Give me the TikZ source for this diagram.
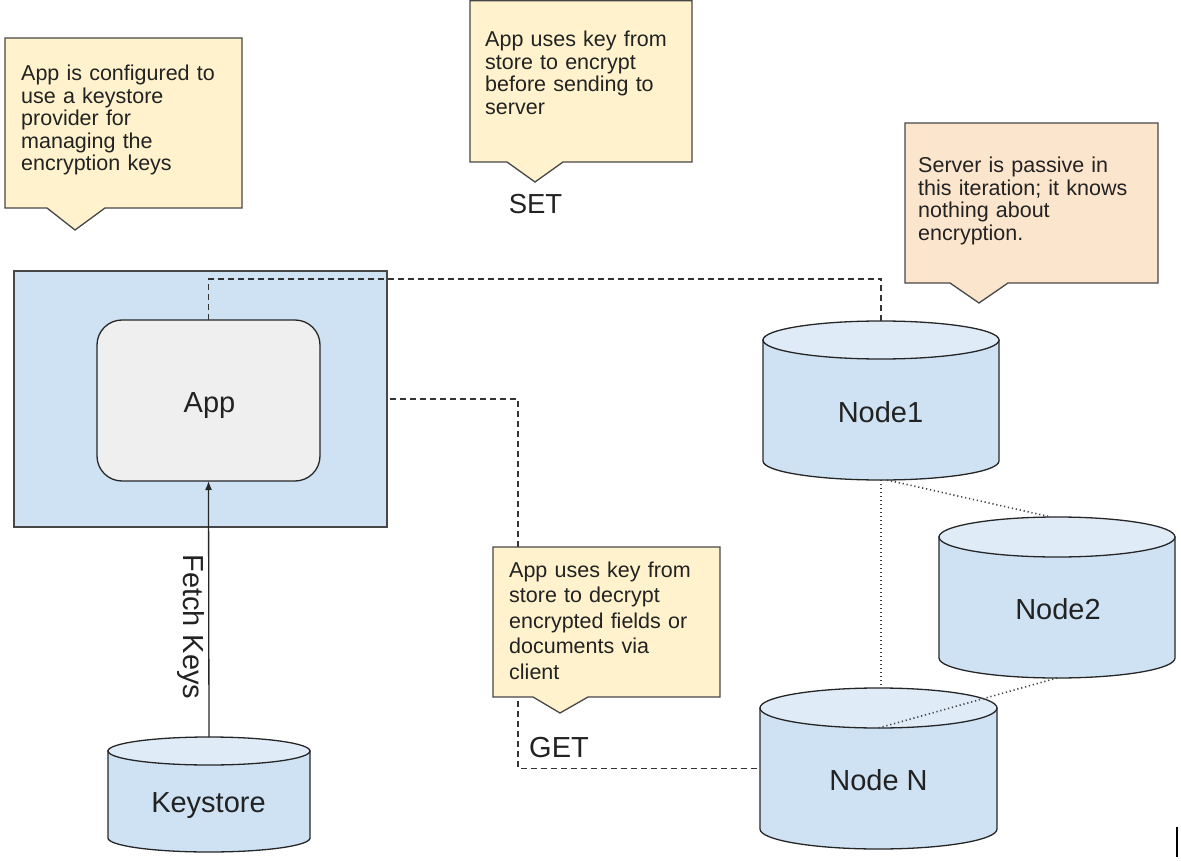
\documentclass[tikz,border=0pt]{standalone}
\usepackage{fontspec}
\setmainfont{Liberation Sans}
\usetikzlibrary{arrows.meta}
\definecolor{cyellow}{HTML}{FFF2CC}
\definecolor{cpeach}{HTML}{FCE5CD}
\definecolor{cblue}{HTML}{CFE2F3}
\definecolor{cbluetop}{HTML}{DFEBF7}
\definecolor{cgray}{HTML}{EFEFEF}
\definecolor{cline}{HTML}{474747}
\definecolor{ctext}{HTML}{222222}
\newcommand{\dbcyl}[6]{%
  \filldraw[cylbody] ({#2-#3},#4) -- ({#2-#3},#5)
    arc[start angle=180,end angle=360,x radius=#3pt,y radius=#6pt]
    -- ({#2+#3},#4) -- cycle;
  \filldraw[cyltop] (#2,#4) ellipse[x radius=#3pt,y radius=#6pt];
  \node[inner sep=0pt, outer sep=0pt, minimum width={2*#3pt},
        minimum height={(#5-#4+2*#6)*1pt}] (#1) at (#2,{(#4+#5)/2}) {};
  \coordinate (#1-topfront) at (#2,{#4+#6});
}
\begin{document}
\begin{tikzpicture}[x=1pt,y=-1pt,
  callbox/.style={draw=cline, line width=1.3pt, line join=miter},
  calltext/.style={anchor=base west, inner sep=0pt, text width=240pt, align=left,
    font=\fontsize{21.5}{22.5}\selectfont, text=ctext},
  biglabel/.style={anchor=base, inner sep=0pt, font=\fontsize{29}{32}\selectfont, text=ctext},
  cylbody/.style={fill=cblue, draw=black!85, line width=1.3pt},
  cyltop/.style={fill=cbluetop, draw=black!85, line width=1.3pt},
  dashline/.style={draw=black!80, line width=1.3pt, dash pattern=on 6pt off 4pt},
  dotline/.style={draw=black!75, line width=1.6pt, dash pattern=on 1.2pt off 2.8pt},
]
\useasboundingbox (0,0) rectangle (1181,861);

% App container
\node[draw=cline, fill=cblue, line width=1.3pt, minimum width=373pt,
      minimum height=256pt, inner sep=0pt, outer sep=0pt] (outer) at (200.5,399) {};
\node[draw=black!85, fill=cgray, rounded corners=25pt, line width=1.3pt,
      minimum width=223pt, minimum height=161pt, inner sep=0pt, outer sep=0pt] (app) at (208.5,400.5) {};
\node[biglabel] (applabel) at (209.5,412) {App};

% cylinders
\dbcyl{n1}{881}{118}{340}{461}{19}
\dbcyl{n2}{1057}{118}{537}{658}{20}
\dbcyl{nN}{878.5}{118.5}{708}{829}{20}
\dbcyl{ks}{209}{101}{751}{838}{14}
\node[biglabel] (n1label) at (880.5,422) {Node1};
\node[biglabel] (n2label) at (1058,619) {Node2};
\node[biglabel] (nNlabel) at (878.5,790) {Node N};
\node[biglabel] (kslabel) at (208.5,812) {Keystore};

% connectors
\coordinate (setrow) at (0,279);
\coordinate (getcol) at (518,0);
\draw[dashline] (app.north) -- (app.north |- setrow) -| (n1.north);
\draw[dashline] ([xshift=3pt]outer.east) -- (getcol |- outer.east) |- (nN.west);
\draw[dotline] (n1.south) -- (n1.south |- nN.north);
\draw[dotline] ([xshift=6pt]n1.south) -- ([xshift=-6pt]n2.north);
\draw[dotline] (n2.south) -- (nN-topfront);
\draw[line width=1.3pt, black!85, -{Latex[length=9pt,width=7pt]}] (ks.north) --
  node[pos=0.43, rotate=-90, anchor=north, inner sep=0pt, outer sep=4pt,
       font=\fontsize{29}{32}\selectfont, text=ctext] (fetchlbl) {Fetch Keys} (app.south);

% callouts
\draw[callbox, fill=cyellow] (5,38) -- (242,38) -- (242,208) -- (105,208) -- (75,230)
  -- (47,208) -- (5,208) -- cycle;
\node[calltext] (c1) at (21,80.7) {App is configured to\\use a keystore\\provider for\\managing the\\encryption keys};

\draw[callbox, fill=cyellow] (470,0.7) -- (692,0.7) -- (692,162) -- (563,162) -- (535,182)
  -- (507,162) -- (470,162) -- cycle;
\node[calltext] (c2) at (485,47) {App uses key from\\store to encrypt\\before sending to\\server};
\node[biglabel, font=\fontsize{27.5}{30}\selectfont] (setlbl) at (535.5,214) {SET};

\draw[callbox, fill=cpeach] (905,123) -- (1158,123) -- (1158,283) -- (1008,283) -- (979,303)
  -- (950,283) -- (905,283) -- cycle;
\node[calltext] (c3) at (918,173) {Server is passive in\\this iteration; it knows\\nothing about\\encryption.};

\draw[callbox, fill=cyellow] (493,547) -- (720,547) -- (720,697) -- (588,697) -- (560,713)
  -- (533,697) -- (493,697) -- cycle;
\node[calltext, font=\fontsize{21.5}{25.5}\selectfont] (c4) at (509,577) {App uses key from\\store to decrypt\\encrypted fields or\\documents via\\client};
\node[biglabel, anchor=base west] (getlbl) at (529,757) {GET};

% stray mark at lower right
\draw[line width=1.3pt, black] (1177,827) -- (1177,857);
\end{tikzpicture}
\end{document}
